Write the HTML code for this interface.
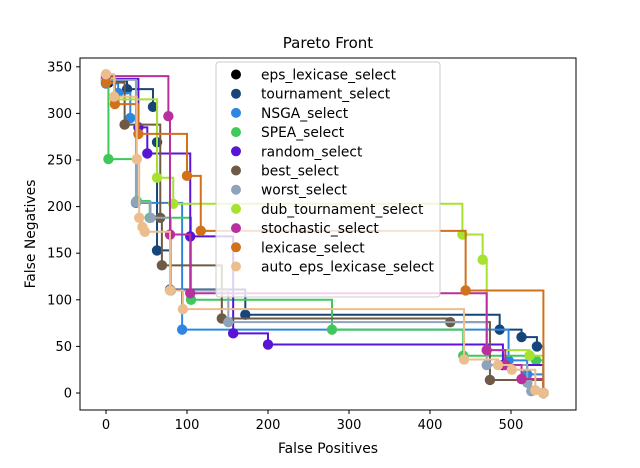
<!DOCTYPE html>
<html><head><meta charset="utf-8"><style>
body{margin:0;background:#fff;}
svg{font-family:"DejaVu Sans","Liberation Sans",sans-serif;}
</style></head><body>
<svg id="chart" width="640" height="463" viewBox="0 0 640 463" xmlns="http://www.w3.org/2000/svg">
<rect width="640" height="463" fill="#fff"/>
<text x="328" y="48" font-size="15" text-anchor="middle">Pareto Front</text>
<g id="plot"></g>
<rect x="80" y="58" width="496" height="352" fill="none" stroke="#000" stroke-width="1"/>
<g id="axes"></g>
<text x="328" y="453" font-size="13.9" text-anchor="middle">False Positives</text>
<text x="35" y="234" font-size="13.9" text-anchor="middle" transform="rotate(-90 35 234)">False Negatives</text>
<g id="legend"></g>
</svg>
<script>
const seriesNames=["eps_lexicase_select","tournament_select","NSGA_select","SPEA_select","random_select","best_select","worst_select","dub_tournament_select","stochastic_select","lexicase_select","auto_eps_lexicase_select"];
const seriesColors=["#000000","#16457a","#2e86e0","#3ec95a","#5a14d6","#6e5a45","#8fa4ba","#a6e22e","#b8309e","#d2711c","#ecbd8d"];
const epsX=[0,3];const epsY=[338,333];
const tourX=[0,26,58,63,63,79,172,486,513,532,540];const tourY=[335,326,307,269,153,111,84,68,60,50,0];
const nsgaX=[0,15,30,37,94,497,520,540];const nsgaY=[332,322,295,204,68,35,20,0];
const speaX=[0,3,38,54,105,279,441,523,531,540];const speaY=[335,251,206,188,100,68,40,40,35,0];
const randX=[0,40,51,104,157,200,490,540];const randY=[337,285,257,168,64,52,30,0];
const bestX=[0,23,67,69,143,425,474,540];const bestY=[333,288,188,137,80,76,14,0];
const worstX=[0,37,55,80,151,470,520,525,540];const worstY=[336,205,188,110,76,30,11,2,0];
const dubX=[0,11,63,83,440,465,470,523,540];const dubY=[338,315,231,203,170,143,46,40,0];
const stochX=[0,77,79,104,470,493,513,540];const stochY=[340,297,170,107,46,30,15,0];
const lexX=[0,11,40,100,117,444,540];const lexY=[333,310,278,233,174,110,0];
const autoX=[0,10,38,41,45,48,79,95,442,484,501,530,540];const autoY=[342,318,251,188,178,173,110,90,36,30,25,3,0];
const xTicks=[0,100,200,300,400,500];const yTicks=[0,50,100,150,200,250,300,350];
const allX=[epsX,tourX,nsgaX,speaX,randX,bestX,worstX,dubX,stochX,lexX,autoX];
const allY=[epsY,tourY,nsgaY,speaY,randY,bestY,worstY,dubY,stochY,lexY,autoY];
const NS="http://www.w3.org/2000/svg";
function sx(v){return 106+0.81*v;}
function sy(v){return 393-0.932*v;}
function mk(t,a){const e=document.createElementNS(NS,t);for(const k in a)e.setAttribute(k,a[k]);return e;}
const plot=document.getElementById('plot');
for(let s=0;s<allX.length;s++){
  const xs=allX[s],ys=allY[s];
  let d="M"+sx(xs[0])+","+sy(ys[0]);
  for(let i=1;i<xs.length;i++){d+=" L"+sx(xs[i])+","+sy(ys[i-1])+" L"+sx(xs[i])+","+sy(ys[i]);}
  const p=mk('path',{d:d,fill:'none',stroke:seriesColors[s],'stroke-width':2});
  
  
  plot.appendChild(p);
  for(let i=0;i<xs.length;i++){
    const c=mk('circle',{cx:sx(xs[i]),cy:sy(ys[i]),r:5.2,fill:seriesColors[s]});
    
    
    plot.appendChild(c);
  }
}
const axes=document.getElementById('axes');
xTicks.forEach(v=>{
  const l=mk('line',{x1:sx(v),x2:sx(v),y1:410,y2:414,stroke:'#000'});
  
  
  axes.appendChild(l);
  const t=mk('text',{x:sx(v),y:429,'font-size':13,'text-anchor':'middle'});t.textContent=v;
  
  
  axes.appendChild(t);
});
yTicks.forEach(v=>{
  const l=mk('line',{x1:76,x2:80,y1:sy(v),y2:sy(v),stroke:'#000'});
  
  
  axes.appendChild(l);
  const t=mk('text',{x:72,y:sy(v)+4.5,'font-size':13,'text-anchor':'end'});t.textContent=v;
  
  
  axes.appendChild(t);
});
const lg=document.getElementById('legend');
const box=mk('rect',{x:216,y:62,width:224,height:235,rx:3,fill:'#fff','fill-opacity':0.8,stroke:'#ccc'});


lg.appendChild(box);
seriesNames.forEach((n,i)=>{
  const y=74.5+i*19.2;
  const c=mk('circle',{cx:236,cy:y,r:5,fill:seriesColors[i]});
  
  
  lg.appendChild(c);
  const t=mk('text',{x:261,y:y+5,'font-size':13.8});t.textContent=n;
  
  
  lg.appendChild(t);
});
</script>
</body></html>
